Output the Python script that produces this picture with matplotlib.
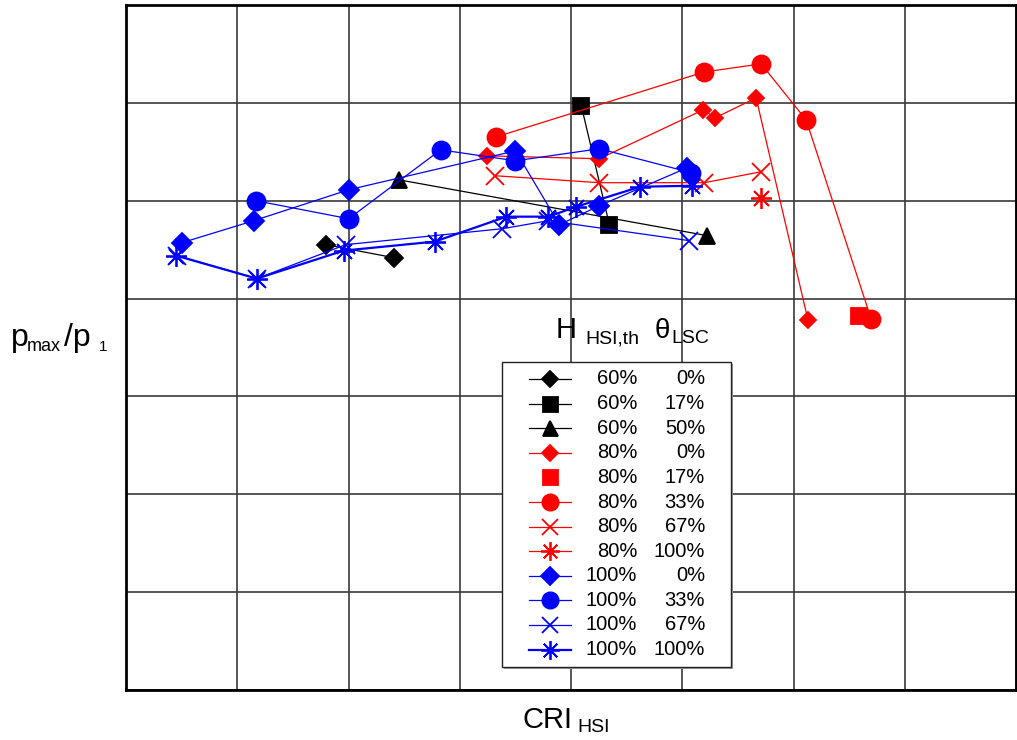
import matplotlib
matplotlib.use('Agg')
import matplotlib.pyplot as plt
from matplotlib.lines import Line2D
from matplotlib.patches import Rectangle

plt.rcParams['font.family'] = ['Liberation Sans', 'DejaVu Sans']

# ---- data (grid units) ----
bd_x = [1.795, 2.406];                       bd_y = [4.551, 4.418]            # 60% 0%
bs_x = [4.093, 4.345];                       bs_y = [5.969, 4.755]            # 60% 17%
bt_x = [2.451, 5.224];                       bt_y = [5.214, 4.643]            # 60% 50%
rd_x = [3.241, 4.255, 5.189, 5.296, 5.664, 6.131]
rd_y = [5.459, 5.429, 5.929, 5.847, 6.051, 3.776]                              # 80% 0%
rs_x = [6.589];                              rs_y = [3.827]                   # 80% 17%
rc_x = [3.330, 5.198, 5.709, 6.113, 6.697]
rc_y = [5.653, 6.316, 6.398, 5.827, 3.796]                                     # 80% 33%
rx_x = [3.321, 4.255, 5.198, 5.709];         rx_y = [5.255, 5.184, 5.184, 5.296]  # 80% 67%
ra_x = [5.709];                              ra_y = [5.031]                   # 80% 100%
bld_x = [0.503, 1.149, 2.002, 3.501, 3.896, 4.255, 5.045]
bld_y = [4.571, 4.796, 5.112, 5.510, 4.755, 4.949, 5.337]                      # 100% 0%
blc_x = [1.167, 2.002, 2.828, 3.501, 4.255, 5.081]
blc_y = [5.000, 4.816, 5.520, 5.408, 5.531, 5.286]                             # 100% 33%
blx_x = [0.458, 1.176, 1.975, 3.384, 3.797, 5.063]
blx_y = [4.439, 4.204, 4.551, 4.714, 4.796, 4.592]                             # 100% 67%
bla_x = [0.449, 1.176, 1.957, 2.774, 3.420, 3.797, 4.048, 4.623, 5.090]
bla_y = [4.439, 4.204, 4.490, 4.582, 4.837, 4.837, 4.939, 5.143, 5.153]        # 100% 100%

h_labels = ['60%', '60%', '60%', '80%', '80%', '80%', '80%', '80%',
            '100%', '100%', '100%', '100%']
t_labels = ['0%', '17%', '50%', '0%', '17%', '33%', '67%', '100%',
            '0%', '33%', '67%', '100%']

AST = (8, 2, 0)
series = [
    (bd_x, bd_y, 'black', 'D', 9, 0.9, '-'),
    (bs_x, bs_y, 'black', 's', 12, 0.9, '-'),
    (bt_x, bt_y, 'black', '^', 12, 0.9, '-'),
    (rd_x, rd_y, 'red', 'D', 8.5, 0.9, '-'),
    (rs_x, rs_y, 'red', 's', 12, 0.9, 'none'),
    (rc_x, rc_y, 'red', 'o', 13, 0.9, '-'),
    (rx_x, rx_y, 'red', 'x', 13, 0.9, '-'),
    (ra_x, ra_y, 'red', AST, 15, 0.9, '-'),
    (bld_x, bld_y, 'blue', 'D', 10, 0.9, '-'),
    (blc_x, blc_y, 'blue', 'o', 13, 0.9, '-'),
    (blx_x, blx_y, 'blue', 'x', 13, 0.9, '-'),
    (bla_x, bla_y, 'blue', AST, 15, 1.6, '-'),
]

W, H = 1017, 740
fig = plt.figure(figsize=(W / 100, H / 100), dpi=100)
ax = fig.add_axes([126 / W, 50 / H, 890 / W, 685 / H])
ax.set_xlim(0, 8)
ax.set_ylim(0, 7)
ax.set_xticks(range(9))
ax.set_yticks(range(8))
ax.tick_params(length=0, labelbottom=False, labelleft=False)
ax.grid(True, color='#3a3a3a', lw=1.2)
ax.set_axisbelow(True)
for s in ax.spines.values():
    s.set_linewidth(2.0)
    s.set_color('black')

for (x, y, c, m, ms, lw, ls) in series:
    ax.plot(x, y, color=c, marker=m, markersize=ms, lw=lw, ls=ls,
            mec=c, mfc=c, mew=1.3, clip_on=False, zorder=3)

# ---- legend (manual) ----
def axf(px, py):
    return ((px - 126) / 890, (690 - py) / 685)

x0, y0 = axf(502, 667)
x1, y1 = axf(731, 362)
sx0, sy0 = axf(504, 669)
ax.add_patch(Rectangle((sx0, sy0), x1 - x0, y1 - y0, transform=ax.transAxes,
                       facecolor='#a0a0a0', edgecolor='none', zorder=5, clip_on=False))
ax.add_patch(Rectangle((x0, y0), x1 - x0, y1 - y0, transform=ax.transAxes,
                       facecolor='white', edgecolor='#222222', lw=1.0, zorder=6, clip_on=False))
for i, (x, y, c, m, ms, lw, ls) in enumerate(series):
    ry = 379 + 24.6 * i
    la, yy = axf(529, ry)
    lb, _ = axf(571, ry)
    lm, _ = axf(550, ry)
    if ls != 'none':
        ax.add_line(Line2D([la, lb], [yy, yy], color=c, lw=lw, transform=ax.transAxes,
                           zorder=7, clip_on=False))
    ax.add_line(Line2D([lm], [yy], color=c, marker=m, markersize=ms * 0.9, mfc=c, mec=c,
                       mew=1.3, ls='none', transform=ax.transAxes, zorder=8, clip_on=False))
    tx1, _ = axf(637, ry)
    tx2, _ = axf(705, ry)
    ax.text(tx1, yy, h_labels[i], ha='right', va='center', fontsize=14.5,
            transform=ax.transAxes, zorder=9)
    ax.text(tx2, yy, t_labels[i], ha='right', va='center', fontsize=14.5,
            transform=ax.transAxes, zorder=9)

# legend title
def ff(px, py):
    return (px / W, 1 - py / H)

fig.text(*ff(556, 338), 'H', fontsize=21, va='baseline', ha='left')
fig.text(*ff(585, 343), 'HSI,th', fontsize=14, va='baseline', ha='left')
fig.text(*ff(655, 338), 'θ', fontsize=20, va='baseline', ha='left')
fig.text(*ff(671, 343), 'LSC', fontsize=14, va='baseline', ha='left')

# y label
fig.text(*ff(11, 346), 'p', fontsize=23, va='baseline', ha='left')
fig.text(*ff(27, 351), 'max', fontsize=13, va='baseline', ha='left')
fig.text(*ff(64, 346), '/p', fontsize=23, va='baseline', ha='left')
fig.text(*ff(99, 351), '1', fontsize=11, va='baseline', ha='left')

# x label
fig.text(*ff(522, 728), 'CRI', fontsize=21, va='baseline', ha='left')
fig.text(*ff(577, 732), 'HSI', fontsize=14, va='baseline', ha='left')

fig.savefig('out.png', dpi=100)
